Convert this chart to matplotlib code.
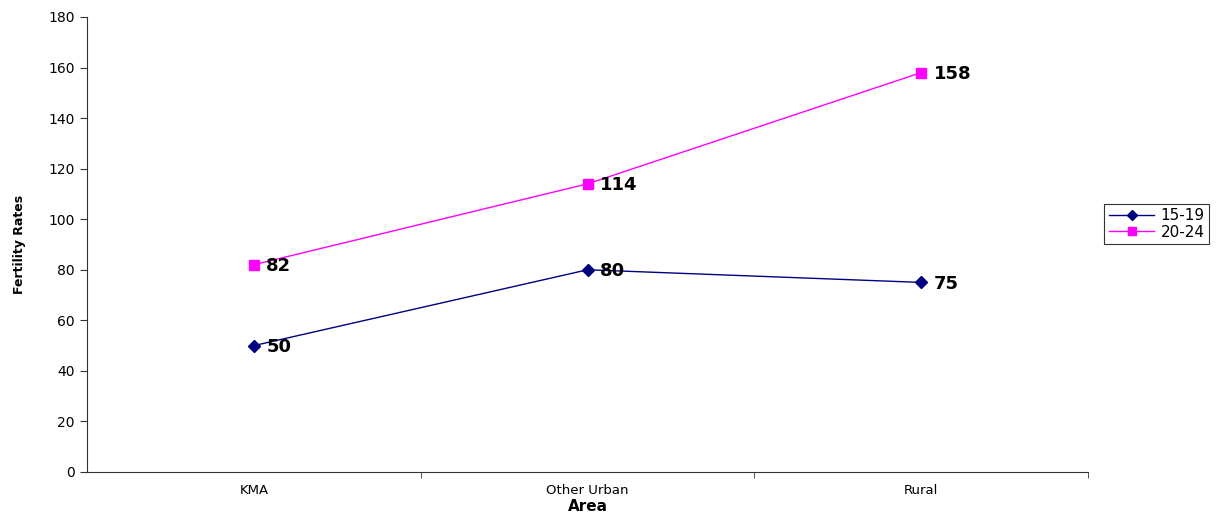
import numpy as np
import matplotlib.pyplot as plt

plt.rcParams['font.family'] = ['DejaVu Sans']

# data
areas = ['KMA', 'Other Urban', 'Rural']
rates_15_19 = [50, 80, 75]
rates_20_24 = [82, 114, 158]
series = [('15-19', rates_15_19, '#000080', 'D', 6),
          ('20-24', rates_20_24, '#FF00FF', 's', 7)]

fig = plt.figure(figsize=(12.17, 5.15), dpi=100)
ax = fig.add_axes([0.0715, 0.0835, 0.8225, 0.8835])

x = np.arange(len(areas))
for name, vals, col, mk, ms in series:
    ax.plot(x, vals, color=col, marker=mk, markersize=ms, linewidth=1, label=name)
    for xi, v in zip(x, vals):
        ax.annotate(str(v), (xi, v), xytext=(9, -1), textcoords='offset points',
                    ha='left', va='center', fontsize=13, fontweight='bold')

ax.set_xlim(-0.5, 2.5)
ax.set_ylim(0, 180)
ax.set_yticks(np.arange(0, 181, 20))
ax.set_xticks(x)
ax.set_xticklabels(areas, fontsize=9.5)
ax.set_xticks([0.5, 1.5, 2.5], minor=True)
ax.tick_params(axis='x', which='major', length=0, pad=9)
ax.tick_params(axis='x', which='minor', length=4, color='#333333')
ax.tick_params(axis='y', length=5, labelsize=10, color='#333333', pad=4)
ax.spines['top'].set_visible(False)
ax.spines['right'].set_visible(False)
ax.spines['left'].set_color('#333333')
ax.spines['bottom'].set_color('#333333')

ax.set_xlabel('Area', fontsize=11, fontweight='bold', labelpad=1)
ax.set_ylabel('Fertility Rates', fontsize=9, fontweight='bold', labelpad=16)

leg = ax.legend(loc='center left', bbox_to_anchor=(1.016, 0.545), fontsize=11,
                frameon=True, fancybox=False, edgecolor='black', borderaxespad=0,
                handlelength=3, borderpad=0.3, labelspacing=0.1, handletextpad=0.4,
                markerscale=0.8)
leg.get_frame().set_linewidth(0.8)

fig.savefig('out.png', dpi=100)
